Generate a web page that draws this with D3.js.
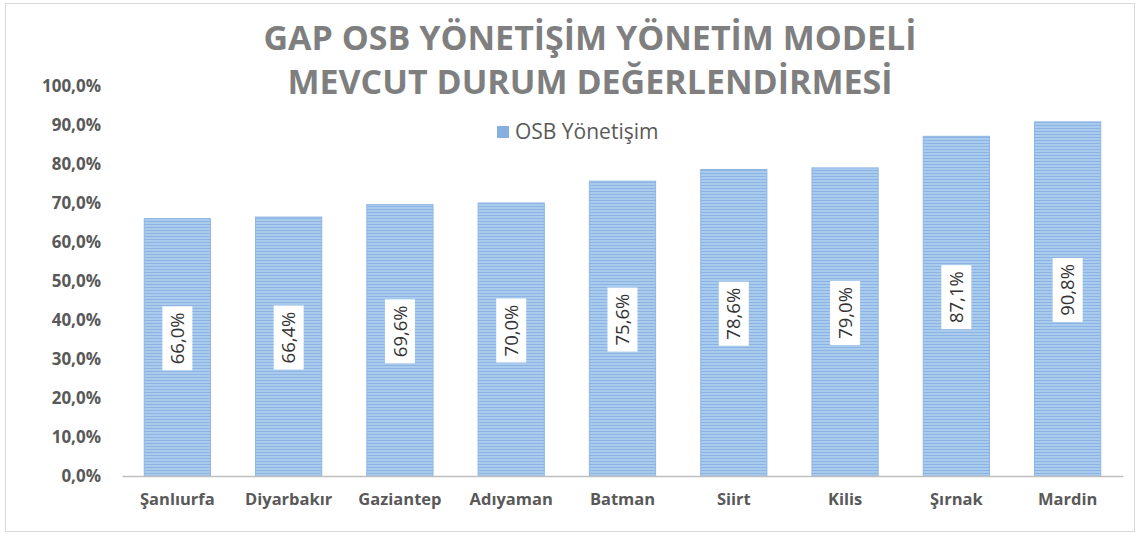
<!DOCTYPE html>
<html>
<head>
<meta charset="utf-8">
<script src="https://cdn.jsdelivr.net/npm/d3@7"></script>
<style>
  body { margin: 0; background: #fff; }
  svg { display: block; font-family: "Open Sans", "DejaVu Sans", sans-serif; }
</style>
</head>
<body>
<svg id="chart" width="1140" height="534"></svg>
<script>
// chart data
var cities = ['Şanlıurfa', 'Diyarbakır', 'Gaziantep', 'Adıyaman', 'Batman', 'Siirt', 'Kilis', 'Şırnak', 'Mardin'];
var osbValues = [66.0, 66.4, 69.6, 70.0, 75.6, 78.6, 79.0, 87.1, 90.8];
var yTicks = [0, 10, 20, 30, 40, 50, 60, 70, 80, 90, 100];
var titleLines = ['GAP OSB YÖNETİŞİM YÖNETİM MODELİ', 'MEVCUT DURUM DEĞERLENDİRMESİ'];
var seriesName = 'OSB Yönetişim';

var svg = d3.select('#chart');
var margin = {left: 122, right: 17, top: 86, bottom: 58};
var W = 1140, H = 534;
var FONT = '"Open Sans", "DejaVu Sans", sans-serif';

// frame
svg.append('rect')
    .attr('x', 5.5).attr('y', 3.5)
    .attr('width', 1129).attr('height', 528)
    .attr('fill', '#fff').attr('stroke', '#d9d9d9');

// striped fill like the excel bars
var defs = svg.append('defs');
var pat = defs.append('pattern')
    .attr('id', 'stripes')
    .attr('patternUnits', 'userSpaceOnUse')
    .attr('width', 8).attr('height', 3);
pat.append('rect').attr('width', 8).attr('height', 3).attr('fill', '#a9cbee');
pat.append('rect').attr('y', 2).attr('width', 8).attr('height', 1).attr('fill', '#8db3e2');

var x = d3.scaleBand()
    .domain(cities)
    .range([margin.left, W - margin.right])
    .paddingInner(0.405)
    .paddingOuter(0.2);

var y = d3.scaleLinear()
    .domain([0, 100])
    .range([H - margin.bottom, margin.top]);

var fmt = function(v) { return v.toFixed(1).replace('.', ',') + '%'; };

// y axis (labels only)
var yAxis = svg.append('g')
    .attr('transform', 'translate(' + (margin.left - 18) + ',0)')
    .call(d3.axisLeft(y).tickValues(yTicks).tickFormat(fmt).tickSize(0))
    .attr('font-family', FONT);
yAxis.select('.domain').remove();
yAxis.selectAll('text')
    .attr('fill', '#595959')
    .style('font-size', '17px')
    .style('font-weight', 'bold');

// bars
svg.append('g').selectAll('rect')
    .data(osbValues)
    .enter().append('rect')
    .attr('x', function(d, i) { return x(cities[i]); })
    .attr('y', function(d) { return y(d); })
    .attr('width', x.bandwidth())
    .attr('height', function(d) { return y(0) - y(d); })
    .attr('fill', 'url(#stripes)')
    .attr('stroke', '#8fb6e4')
    .attr('stroke-width', 1);

// x axis
var xAxis = svg.append('g')
    .attr('transform', 'translate(0,' + y(0) + ')')
    .call(d3.axisBottom(x).tickSize(0).tickPadding(17))
    .attr('font-family', FONT);
xAxis.select('.domain').attr('stroke', '#bfbfbf').attr('stroke-width', 1.5);
xAxis.selectAll('text')
    .attr('fill', '#595959')
    .style('font-size', '16.5px')
    .style('font-weight', 'bold');

// value labels, rotated inside white boxes
var lbl = svg.append('g').selectAll('g')
    .data(osbValues)
    .enter().append('g')
    .attr('transform', function(d, i) {
        var cx = x(cities[i]) + x.bandwidth() / 2;
        var cy = (y(d) + y(0)) / 2 - 9;
        return 'translate(' + cx + ',' + cy + ') rotate(-90)';
    });
lbl.append('rect')
    .attr('x', -32).attr('y', -15)
    .attr('width', 64).attr('height', 30)
    .attr('fill', '#fff');
lbl.append('text')
    .attr('text-anchor', 'middle')
    .attr('dy', '0.36em')
    .attr('fill', '#333')
    .style('font-size', '18.5px')
    .text(function(d) { return fmt(d); });

// title
svg.append('g').selectAll('text')
    .data(titleLines)
    .enter().append('text')
    .attr('x', 590)
    .attr('y', function(d, i) { return 50 + i * 44; })
    .attr('text-anchor', 'middle')
    .attr('fill', '#7f7f7f')
    .style('font-size', '34px')
    .style('font-weight', 'bold')
    .text(function(d) { return d; });

// legend
var leg = svg.append('g').attr('transform', 'translate(497,126)');
leg.append('rect').attr('width', 12).attr('height', 12).attr('fill', '#86afe0');
leg.append('text')
    .attr('x', 18).attr('y', 6).attr('dy', '0.35em')
    .attr('fill', '#595959')
    .style('font-size', '21px')
    .text(seriesName);
</script>
</body>
</html>
